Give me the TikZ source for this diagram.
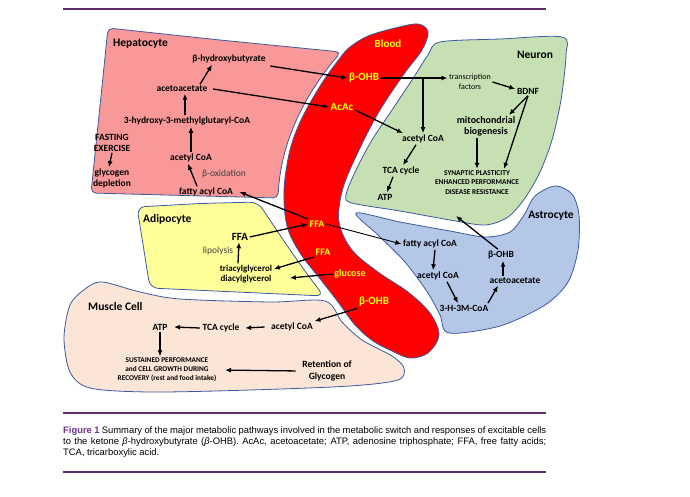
\documentclass[tikz,border=0pt]{standalone}
\usepackage{fontspec}
\setmainfont{Carlito}
\newfontfamily\capfont{Liberation Sans}
\usetikzlibrary{arrows.meta}

\begin{document}
\begin{tikzpicture}[x=1pt,y=-1pt,
	cell/.style={draw=cellline, line width=0.8pt},
	lbl/.style={font=\bfseries\fontsize{9.5}{11}\selectfont, align=center, inner sep=1.5pt},
	ttl/.style={font=\bfseries\fontsize{11.5}{13}\selectfont, inner sep=0pt},
	blab/.style={font=\bfseries\fontsize{11}{13}\selectfont, text=bloodtxt, inner sep=1.5pt},
	bsm/.style={blab, font=\bfseries\fontsize{10}{12}\selectfont},
	note/.style={font=\fontsize{9.5}{11}\selectfont, text=notegray, inner sep=1.5pt},
	caps/.style={font=\bfseries\fontsize{7.4}{9.5}\selectfont, align=center, inner sep=1.5pt},
	tf/.style={font=\fontsize{8}{10}\selectfont, align=center, inner sep=1.5pt},
	flow/.style={-{Latex[length=6pt,width=5pt]}, line width=1.3pt},
	rule/.style={draw=rulepurple, line width=1.3pt}]
	% Define custom colors
	\definecolor{hepfill}{RGB}{248,152,152}
	\definecolor{bloodred}{RGB}{255,0,0}
	\definecolor{neufill}{RGB}{198,224,180}
	\definecolor{astfill}{RGB}{180,199,231}
	\definecolor{adifill}{RGB}{255,255,153}
	\definecolor{musfill}{RGB}{251,229,214}
	\definecolor{cellline}{RGB}{60,90,160}
	\definecolor{bloodtxt}{RGB}{255,255,0}
	\definecolor{notegray}{RGB}{64,64,64}
	\definecolor{rulepurple}{RGB}{95,45,105}
	\definecolor{figpurple}{RGB}{110,50,140}
	\useasboundingbox (0,0) rectangle (690,496);
	\draw[rule] (63,9) -- (546,9);
	\draw[rule] (63,413) -- (546,413);
	\draw[rule] (63,472) -- (546,472);
	% cells
	\draw[cell, fill=hepfill, rounded corners=5pt] (220,40) -- (341,52) .. controls (306,93) and (281,140) .. (278,198) -- (91,193) -- (108,28) -- cycle;
	\draw[cell, fill=adifill, rounded corners=8pt] (200,203.5) -- (258,202) .. controls (283,240) and (305,272) .. (324,296) -- (150,288) -- (137,207) -- cycle;
	\draw[cell, fill=musfill] plot[smooth cycle, tension=0.5] coordinates {(102,282) (140,292) (180,299) (270,302) (325,301) (342,322) (362,340) (392,356) (404,368) (398,380) (350,386) (250,390) (150,392) (90,388) (70,372) (64,338) (70,305) (85,289)};
	\draw[cell, fill=neufill] plot[smooth cycle, tension=0.5] coordinates {(440,42) (500,39) (562,37) (566,55) (561,100) (552,140) (540,172) (525,198) (508,217) (485,225) (450,220) (400,211) (352,203) (346,195) (356,170) (372,140) (392,110) (412,80) (428,55)};
	\draw[cell, fill=astfill] plot[smooth cycle, tension=0.5] coordinates {(356,213) (400,222) (450,231) (485,237) (510,232) (524,215) (535,196) (555,186) (572,194) (579,215) (578,250) (568,282) (545,305) (500,326) (449,333) (440,315) (428,293) (405,262) (378,235)};
	\draw[cell, fill=bloodred] plot[smooth cycle, tension=0.55] coordinates {(350,47) (368,36) (395,28) (418,24) (428,32) (422,50) (404,74) (380,110) (360,148) (343,188) (339,222) (352,250) (378,272) (408,292) (430,313) (439,335) (428,353) (410,358) (392,351) (373,341) (355,325) (338,302) (321,280) (300,253) (287,226) (284,190) (290,150) (302,118) (322,83) (340,58)};
	% hepatocyte
	\node[ttl, anchor=west] (hepT) at (113,44) {Hepatocyte};
	\node[lbl] (hbut) at (229,59) {β-hydroxybutyrate};
	\node[lbl] (hacac) at (182,89) {acetoacetate};
	\node[lbl] (hhmg) at (187,121) {3-hydroxy-3-methylglutaryl-CoA};
	\node[lbl] (fast) at (112,142.5) {FASTING\\EXERCISE};
	\node[lbl] (gdep) at (112,178.5) {glycogen\\depletion};
	\node[lbl] (hacoa) at (191,158) {acetyl CoA};
	\node[note] (boxi) at (224,174) {β-oxidation};
	\node[lbl] (hfacoa) at (206,192) {fatty acyl CoA};
	% blood
	\node[blab] (blood) at (388,44) {Blood};
	\node[blab] (bbohb) at (364,78) {β-OHB};
	\node[blab] (bacac) at (342,107) {AcAc};
	\node[bsm] (bffa1) at (317,224) {FFA};
	\node[bsm] (bffa2) at (323,252) {FFA};
	\node[bsm] (bglu) at (350,274) {glucose};
	\node[blab] (bbohb2) at (374,302) {β-OHB};
	% neuron
	\node[ttl] (neuT) at (535,55) {Neuron};
	\node[tf] (tfac) at (470,82) {transcription\\factors};
	\node[lbl] (bdnf) at (528,91) {BDNF};
	\node[lbl, font=\bfseries\fontsize{10}{11}\selectfont] (mito) at (486,126.5) {mitochondrial\\biogenesis};
	\node[lbl] (nacoa) at (423,139) {acetyl CoA};
	\node[lbl] (ntca) at (401,171) {TCA cycle};
	\node[lbl] (natp) at (385,197) {ATP};
	\node[caps] (syn) at (477,182.5) {SYNAPTIC PLASTICITY\\ENHANCED PERFORMANCE\\DISEASE RESISTANCE};
	\coordinate (nbot) at (456,216);
	% astrocyte
	\node[ttl] (astT) at (551,216) {Astrocyte};
	\node[lbl] (afacoa) at (430,244) {fatty acyl CoA};
	\node[lbl] (aacoa) at (438,276) {acetyl CoA};
	\node[lbl] (ahmg) at (464,308) {3-H-3M-CoA};
	\node[lbl] (aacac) at (515,281) {acetoacetate};
	\node[lbl] (abohb) at (501,255) {β-OHB};
	% adipocyte
	\node[ttl, anchor=west] (adiT) at (143,219) {Adipocyte};
	\node[lbl, font=\bfseries\fontsize{11}{13}\selectfont] (affa) at (240,237) {FFA};
	\node[note] (lipo) at (218,251) {lipolysis};
	\node[lbl, font=\bfseries\fontsize{9}{10}\selectfont] (tag) at (246,274) {triacylglycerol\\diacylglycerol};
	% muscle cell
	\node[ttl, anchor=west] (musT) at (88,306) {Muscle Cell};
	\node[lbl] (matp) at (160,327) {ATP};
	\node[lbl] (mtca) at (221,328) {TCA cycle};
	\node[lbl] (macoa) at (292,327) {acetyl CoA};
	\node[caps, font=\bfseries\fontsize{7.3}{9}\selectfont] (sust) at (167,370) {SUSTAINED PERFORMANCE\\and CELL GROWTH DURING\\RECOVERY (rest and food intake)};
	\node[lbl, font=\bfseries\fontsize{9.6}{12}\selectfont] (reten) at (327,371) {Retention of\\Glycogen};
	% hepatocyte arrows
	\draw[flow] ([xshift=18pt]hacac.north) -- ([xshift=-17pt]hbut.south);
	\draw[flow] ([xshift=-2pt]hhmg.north) -- ([xshift=3pt]hacac.south);
	\draw[flow] (hacoa.north) -- (hacoa.north |- hhmg.south);
	\draw[flow] ([xshift=-9pt]hfacoa.north) -- ([xshift=-3pt]hacoa.south);
	\draw[flow] (fast.south) -- ([xshift=-3pt]gdep.north);
	\draw[flow] ([xshift=3pt,yshift=-7pt]hbut.east) -- (bbohb.west);
	\draw[flow] ([xshift=4pt]hacac.east) -- (bacac.west);
	\draw[flow] (bffa1.north west) -- ([xshift=5pt]hfacoa.east);
	% neuron arrows
	\draw[flow] (bbohb.east) -- (bbohb.east -| tfac.west);
	\draw[flow] (bbohb.east -| nacoa) -- (nacoa.north);
	\draw[flow] ([yshift=-3pt]bacac.east) -- ([xshift=-20pt]nacoa.north);
	\draw[flow] (tfac.east) -- ([yshift=2pt]bdnf.west);
	\draw[flow] (bdnf.south) -- ([xshift=-8pt]mito.north east);
	\draw[flow] (bdnf.south) -- ([xshift=27pt]syn.north);
	\draw[flow] (mito.south -| syn.north) -- (syn.north);
	\draw[flow] ([xshift=-7pt]nacoa.south) -- ([xshift=2pt]ntca.north);
	\draw[flow] ([xshift=-8pt]ntca.south) -- ([xshift=2pt]natp.north);
	% astrocyte arrows
	\draw[flow, line width=0.9pt] (bffa1.east) -- (afacoa.west);
	\draw[flow] ([xshift=5pt]afacoa.south) -- ([xshift=-5pt]aacoa.north);
	\draw[flow] ([xshift=9pt]aacoa.south) -- ([xshift=-6pt]ahmg.north);
	\draw[flow] ([xshift=24pt]ahmg.north) -- ([xshift=-17pt]aacac.south);
	\draw[flow] ([xshift=-12pt]aacac.north) -- ([xshift=2pt]abohb.south);
	\draw[flow] ([xshift=-3pt]abohb.north) -- (nbot);
	% adipocyte arrows
	\draw[flow] ([xshift=-8pt]tag.north) -- ([xshift=-1pt]affa.south);
	\draw[flow] (affa.east) -- (bffa1.west);
	\draw[flow] (bffa2.south west) -- ([yshift=5pt]tag.east);
	\draw[flow] (bglu.west) -- ([xshift=16pt,yshift=-4pt]tag.east);
	% muscle arrows
	\draw[flow] (bbohb2.south west) -- (macoa.north east);
	\draw[flow] ([xshift=-5pt]macoa.west) -- ([xshift=4pt]mtca.east);
	\draw[flow] ([xshift=-1pt]mtca.west) -- ([xshift=5pt]matp.east);
	\draw[flow] (matp.south) -- (matp.south |- sust.north);
	\draw[flow, shorten <=5pt, shorten >=7pt] (reten.west) -- (sust.east);
	% caption
	\node[anchor=north west, inner sep=0pt, text width=483pt, align=justify, font=\capfont\fontsize{9.4}{11}\selectfont] (cap) at (63,426) {\textcolor{figpurple}{\textbf{Figure 1}} Summary of the major metabolic pathways involved in the metabolic switch and responses of excitable cells\linebreak to the ketone \textit{β}-hydroxybutyrate (\textit{β}-OHB). AcAc, acetoacetate; ATP, adenosine triphosphate; FFA, free fatty acids;\linebreak TCA, tricarboxylic acid.};
\end{tikzpicture}
\end{document}
